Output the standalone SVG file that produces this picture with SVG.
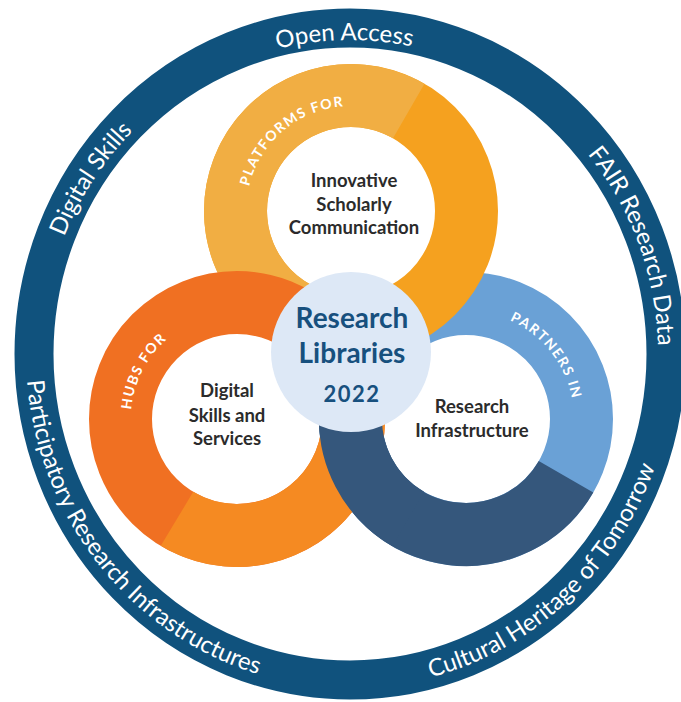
<svg xmlns="http://www.w3.org/2000/svg" xmlns:xlink="http://www.w3.org/1999/xlink" width="681" height="702" viewBox="0 0 681 702">
<style>
.outer{font-family:Lato,"Open Sans","Liberation Sans",sans-serif;font-size:24px;fill:#ffffff}
.lbl{font-family:Lato,"Open Sans","Liberation Sans",sans-serif;font-size:14px;font-weight:700;fill:#ffffff;letter-spacing:1.5px}
.inner{font-family:Lato,"Open Sans","Liberation Sans",sans-serif;font-size:18.5px;font-weight:700;fill:#2b2b2b;text-anchor:middle}
.ctr{font-family:Lato,"Open Sans","Liberation Sans",sans-serif;font-weight:700;fill:#17507e;text-anchor:middle}
.band{fill:none;stroke-width:63}
</style>
<defs>
<path id="pDigital" d="M100.8,538.6 A308,314 0 0,1 424.5,49.3"/>
<path id="pOpen" d="M58.8,251.8 A308,314 0 0,1 637.5,241.5"/>
<path id="pFair" d="M345.7,40 A308,314 0 0,1 551.2,591.7"/>
<path id="pPart" d="M70.8,184.5 A324,334 0 0,0 458.2,668.8"/>
<path id="pCult" d="M196.9,648.4 A324,334 0 0,0 650.8,230"/>
<path id="pPlat" d="M260.1,263.5 A105,105 0 0,1 418.5,130.6"/>
<path id="pHubs" d="M173.2,503.7 A106,106 0 0,1 268,317.6"/>
<path id="pPartn" d="M415,323.8 A108,108 0 0,1 546.5,491"/>
</defs>
<rect width="681" height="702" fill="#ffffff"/>
<g id="outer-ring">
<ellipse cx="350" cy="354" rx="316" ry="326" fill="none" stroke="#10527d" stroke-width="39"/>
<text class="outer" text-anchor="middle"><textPath href="#pDigital" startOffset="50%">Digital Skills</textPath></text>
<text class="outer" text-anchor="middle"><textPath href="#pOpen" startOffset="50%">Open Access</textPath></text>
<text class="outer" text-anchor="middle"><textPath href="#pFair" startOffset="50%">FAIR Research Data</textPath></text>
<text class="outer" text-anchor="middle"><textPath href="#pPart" startOffset="50%">Participatory Research Infrastructures</textPath></text>
<text class="outer" text-anchor="middle"><textPath href="#pCult" startOffset="50%">Cultural Heritage of Tomorrow</textPath></text>
</g>
<g id="ring-partners">
<circle class="band" cx="466" cy="419" r="115.5" stroke="#6aa1d6"/>
<path class="band" d="M566.03,476.75 A115.5,115.5 0 0,1 350.5,419" stroke="#35577c"/>
<text class="lbl" text-anchor="middle"><textPath href="#pPartn" startOffset="50%">PARTNERS IN</textPath></text>
<text class="inner" x="472" y="413">Research</text>
<text class="inner" x="472" y="437">Infrastructure</text>
</g>
<g id="ring-platforms">
<circle class="band" cx="351" cy="211" r="115.5" stroke="#f5a11f"/>
<path class="band" d="M330.94,324.75 A115.5,115.5 0 1,1 408.75,110.97" stroke="#f1ae43"/>
<text class="lbl" text-anchor="middle"><textPath href="#pPlat" startOffset="50%">PLATFORMS FOR</textPath></text>
<text class="inner" x="354" y="187">Innovative</text>
<text class="inner" x="354" y="211">Scholarly</text>
<text class="inner" x="354" y="234">Communication</text>
</g>
<g id="ring-hubs">
<circle class="band" cx="237" cy="419" r="116.5" stroke="#f07022"/>
<path class="band" d="M353.5,419 A116.5,116.5 0 0,1 177,518.86" stroke="#f58a22"/>
<text class="lbl" text-anchor="middle"><textPath href="#pHubs" startOffset="50%">HUBS FOR</textPath></text>
<text class="inner" x="227" y="397">Digital</text>
<text class="inner" x="227" y="422">Skills and</text>
<text class="inner" x="227" y="445">Services</text>
</g>
<g id="ring-partners-overlap">
<path class="band" d="M408.25,519.03 A115.5,115.5 0 0,1 350.94,408.93" stroke="#35577c"/>
</g>
<g id="center">
<circle cx="351" cy="352" r="80" fill="#dde8f6"/>
<text class="ctr" x="352" y="328" font-size="28">Research</text>
<text class="ctr" x="352" y="363" font-size="28">Libraries</text>
<text class="ctr" x="352" y="402" font-size="22" letter-spacing="1.5">2022</text>
</g>
<g id="connectors"/>
</svg>
